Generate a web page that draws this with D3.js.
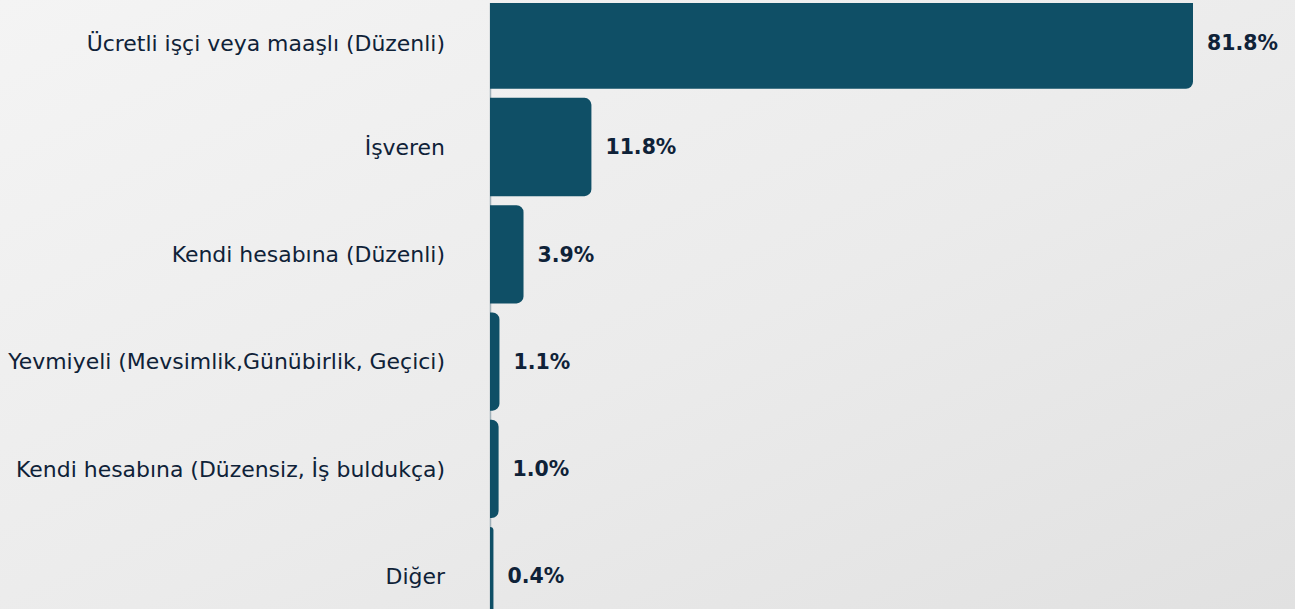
<!DOCTYPE html>
<html>
<head>
<meta charset="utf-8">
<script src="https://cdn.jsdelivr.net/npm/d3@7"></script>
<style>
  html, body { margin: 0; padding: 0; width: 1295px; height: 609px; overflow: hidden; }
  svg { display: block; }
</style>
</head>
<body>
<div id="chart"></div>
<script>
const categories = [
  "Ücretli işçi veya maaşlı (Düzenli)",
  "İşveren",
  "Kendi hesabına (Düzenli)",
  "Yevmiyeli (Mevsimlik,Günübirlik, Geçici)",
  "Kendi hesabına (Düzensiz, İş buldukça)",
  "Diğer"
];
const values = [81.8, 11.8, 3.9, 1.1, 1.0, 0.4];
const valueLabels = ["81.8%", "11.8%", "3.9%", "1.1%", "1.0%", "0.4%"];

const W = 1295, H = 609;
const svg = d3.select("#chart").append("svg").attr("width", W).attr("height", H);

const defs = svg.append("defs");
const grad = defs.append("linearGradient").attr("id", "bg")
  .attr("x1", "0%").attr("y1", "0%").attr("x2", "100%").attr("y2", "100%");
grad.append("stop").attr("offset", "0%").attr("stop-color", "#f4f4f4");
grad.append("stop").attr("offset", "55%").attr("stop-color", "#ebebeb");
grad.append("stop").attr("offset", "100%").attr("stop-color", "#e1e1e1");
defs.append("clipPath").attr("id", "plotclip").append("rect")
  .attr("x", 0).attr("y", 3).attr("width", W).attr("height", H - 3);

svg.append("rect").attr("width", W).attr("height", H).attr("fill", "url(#bg)");

const x = d3.scaleLinear().domain([0, d3.max(values)]).range([490, 1193]);
const y = d3.scaleBand().domain(categories).range([-9.4, 625.2]).paddingInner(0.084).paddingOuter(0);

const textColor = "#0f2238";
const barColor = "#0f4f66";
const font = "'DejaVu Sans', sans-serif";

function rightRounded(x0, y0, w, h, r) {
  r = Math.min(r, w, h / 2);
  const p = d3.path();
  p.moveTo(x0, y0);
  p.lineTo(x0 + w - r, y0);
  p.arcTo(x0 + w, y0, x0 + w, y0 + r, r);
  p.lineTo(x0 + w, y0 + h - r);
  p.arcTo(x0 + w, y0 + h, x0 + w - r, y0 + h, r);
  p.lineTo(x0, y0 + h);
  p.closePath();
  return p.toString();
}

const plot = svg.append("g").attr("clip-path", "url(#plotclip)");

plot.append("line")
  .attr("x1", x(0) + 0.5).attr("x2", x(0) + 0.5)
  .attr("y1", 0).attr("y2", H)
  .attr("stroke", "#9fb0b8").attr("stroke-width", 1.5);

plot.selectAll("path.bar").data(values).join("path")
  .attr("class", "bar")
  .attr("fill", barColor)
  .attr("d", (d, i) => rightRounded(x(0), y(categories[i]), x(d) - x(0), y.bandwidth(), 7));

// fit font sizes to the reference text widths
function fitSize(text, weight, target) {
  const t = svg.append("text").attr("font-family", font).attr("font-weight", weight)
    .attr("font-size", 20).text(text);
  const w = t.node().getComputedTextLength();
  t.remove();
  return 20 * target / w;
}
const catSize = fitSize(categories[3], 400, 437);
const valSize = fitSize(valueLabels[0], 700, 71);

svg.selectAll("text.val").data(values).join("text")
  .attr("class", "val")
  .attr("x", d => x(d) + 14)
  .attr("y", (d, i) => y(categories[i]) + y.bandwidth() / 2 + (i === 0 ? 3 : 0))
  .attr("dy", "0.36em")
  .attr("fill", textColor)
  .attr("font-family", font)
  .attr("font-weight", 700)
  .attr("font-size", valSize)
  .text((d, i) => valueLabels[i]);

svg.selectAll("text.cat").data(categories).join("text")
  .attr("class", "cat")
  .attr("x", 445)
  .attr("y", (d, i) => y(d) + y.bandwidth() / 2 + (i === 0 ? 3 : 0))
  .attr("dy", "0.36em")
  .attr("text-anchor", "end")
  .attr("fill", textColor)
  .attr("font-family", font)
  .attr("font-size", catSize)
  .text(d => d);
</script>
</body>
</html>
